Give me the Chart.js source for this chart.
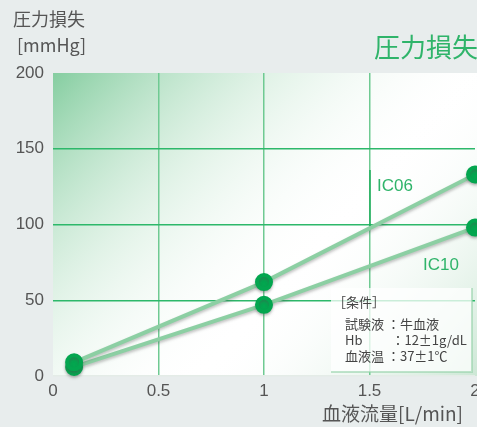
<!DOCTYPE html>
<html>
<head>
<meta charset="utf-8">
<script src="https://cdn.jsdelivr.net/npm/chart.js@4"></script>
<style>
  html, body { margin: 0; padding: 0; background: #e8eded; }
  #wrap { width: 477px; height: 427px; }
</style>
</head>
<body>
<div id="wrap"><canvas id="graficoPresion" width="477" height="427"></canvas></div>
<script>
// 血液流量 [L/min]
const flowRates = [0.1, 1, 2];
// 圧力損失 [mmHg]
const ic06 = [9, 62, 133];
const ic10 = [6, 47, 98];
const xTicks = [0, 0.5, 1, 1.5, 2];
const yTicks = [0, 50, 100, 150, 200];
const conditions = ["試験液 ：牛血液", "Hb　　 ：12±1g/dL", "血液温 ：37±1℃"];

const FONT = "'Noto Sans CJK JP', 'Noto Sans', sans-serif";
const NUM_FONT = "'Liberation Sans', Arial, sans-serif";
const GRAY = "#555";
const GREEN = "#2fb46a";

function toPoints(values) {
    return flowRates.map((x, i) => ({ x: x, y: values[i] }));
}

// 背景のグラデーション
const fondo = {
    id: "fondo",
    beforeDraw(chart) {
        const { ctx, chartArea: a } = chart;
        const w = 477 - a.left;
        ctx.save();
        ctx.fillStyle = "#ffffff";
        ctx.fillRect(a.left, a.top, w, a.bottom - a.top);
        let g = ctx.createLinearGradient(a.left, a.top, a.left + 230, a.top + 220);
        g.addColorStop(0, "rgba(120,200,150,0.9)");
        g.addColorStop(0.5, "rgba(190,228,203,0.45)");
        g.addColorStop(1, "rgba(255,255,255,0)");
        ctx.fillStyle = g;
        ctx.fillRect(a.left, a.top, w, a.bottom - a.top);
        g = ctx.createLinearGradient(477, a.bottom, 317, a.bottom - 140);
        g.addColorStop(0, "rgba(170,215,185,0.6)");
        g.addColorStop(1, "rgba(255,255,255,0)");
        ctx.fillStyle = g;
        ctx.fillRect(a.left, a.top, w, a.bottom - a.top);
        ctx.restore();
    }
};

// 線の影
const sombra = {
    id: "sombra",
    beforeDatasetsDraw(chart) {
        const ctx = chart.ctx;
        ctx.save();
        ctx.shadowColor = "rgba(80,80,80,0.35)";
        ctx.shadowBlur = 3;
        ctx.shadowOffsetY = 2;
    },
    afterDatasetsDraw(chart) {
        chart.ctx.restore();
    }
};

// 見出し・ラベル・条件
const textos = {
    id: "textos",
    afterDraw(chart) {
        const { ctx, scales } = chart;
        ctx.save();
        ctx.textBaseline = "middle";

        ctx.fillStyle = GRAY;
        ctx.font = "18px " + FONT;
        ctx.textAlign = "left";
        ctx.fillText("圧力損失", 13, 19);
        ctx.fillText("[mmHg]", 17, 45);

        ctx.fillStyle = GREEN;
        ctx.font = "26px " + FONT;
        ctx.textAlign = "right";
        ctx.fillText("圧力損失", 478, 47);

        ctx.fillStyle = GRAY;
        ctx.font = "19px " + FONT;
        ctx.fillText("血液流量[L/min]", 463, 414);

        // 系列ラベル
        ctx.fillStyle = GREEN;
        ctx.font = "17px " + NUM_FONT;
        ctx.textAlign = "left";
        ctx.fillText("IC06", 377, 186);
        ctx.fillText("IC10", 423, 265);

        // 引き出し線
        const xl = scales.x.getPixelForValue(1.5) + 0.5;
        ctx.strokeStyle = "#1fae5c";
        ctx.lineWidth = 1.5;
        ctx.beginPath();
        ctx.moveTo(xl, 170);
        ctx.lineTo(xl, 226);
        ctx.stroke();

        // 条件の枠
        ctx.fillStyle = "rgba(255,255,255,0.75)";
        ctx.fillRect(331, 288, 141, 84);
        ctx.strokeStyle = "rgba(150,210,170,0.6)";
        ctx.lineWidth = 2;
        ctx.beginPath();
        ctx.moveTo(472, 288);
        ctx.lineTo(472, 372);
        ctx.lineTo(331, 372);
        ctx.stroke();

        ctx.fillStyle = "#444";
        ctx.font = "13px " + FONT;
        ctx.fillText("［条件］", 333, 302);
        conditions.forEach((t, i) => ctx.fillText(t, 345, 324 + i * 16));
        ctx.restore();
    }
};

const lineStyle = {
    borderColor: "#8ccfa3",
    borderWidth: 4,
    pointBackgroundColor: "#03a64f",
    pointBorderColor: "#03a64f",
    pointRadius: 7,
    pointHoverRadius: 7,
    fill: false,
    tension: 0,
    clip: false
};

new Chart(document.getElementById("graficoPresion"), {
    type: "line",
    data: {
        datasets: [
            Object.assign({ label: "IC06", data: toPoints(ic06) }, lineStyle),
            Object.assign({ label: "IC10", data: toPoints(ic10) }, lineStyle)
        ]
    },
    options: {
        responsive: false,
        animation: false,
        layout: { autoPadding: false, padding: { top: 73, right: 2, left: 0, bottom: 0 } },
        plugins: {
            legend: { display: false },
            tooltip: { enabled: false }
        },
        scales: {
            x: {
                type: "linear",
                min: 0,
                max: 2,
                afterBuildTicks(axis) { axis.ticks = xTicks.map(v => ({ value: v })); },
                afterFit(axis) {
                    axis.height = 51;
                    axis.paddingLeft = 0;
                    axis.paddingRight = 0;
                },
                border: { display: false },
                grid: {
                    color: c => (c.tick.value === 0 || c.tick.value === 2) ? "rgba(0,0,0,0)" : "#6fca92",
                    lineWidth: 1.5,
                    drawTicks: false
                },
                ticks: {
                    color: GRAY,
                    font: { size: 17, family: NUM_FONT },
                    padding: 5,
                    maxRotation: 0,
                    callback: v => String(v)
                }
            },
            y: {
                min: 0,
                max: 200,
                afterBuildTicks(axis) { axis.ticks = yTicks.map(v => ({ value: v })); },
                afterFit(axis) {
                    axis.width = 53;
                    axis.paddingTop = 0;
                    axis.paddingBottom = 0;
                },
                border: { display: false },
                grid: {
                    color: c => c.tick.value === 200 ? "rgba(0,0,0,0)" : (c.tick.value === 0 ? "#e4ece7" : "#2db86a"),
                    lineWidth: 1.5,
                    drawTicks: false
                },
                ticks: { color: GRAY, font: { size: 17, family: NUM_FONT }, padding: 9 }
            }
        }
    },
    plugins: [fondo, sombra, textos]
});
</script>
</body>
</html>
